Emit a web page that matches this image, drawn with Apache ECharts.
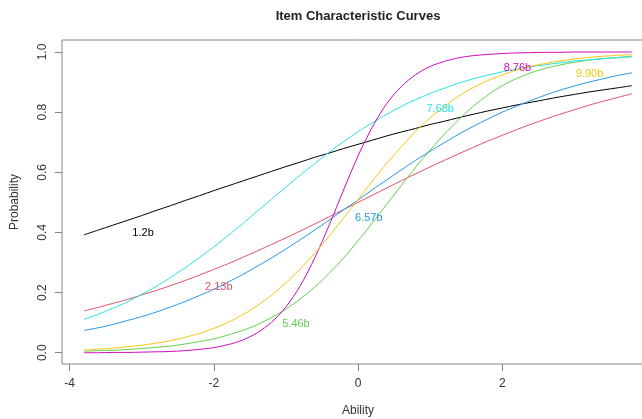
<!DOCTYPE html>
<html>
<head>
<meta charset="utf-8">
<script src="https://cdn.jsdelivr.net/npm/echarts@6/dist/echarts.min.js"></script>
<style>
  html, body { margin: 0; padding: 0; background: #fff; }
  #chart { width: 642px; height: 419px; }
</style>
</head>
<body>
<div id="chart"></div>
<script>
// ability grid the curves were read at
const theta = [-3.8, -3.6, -3.4, -3.2, -3.0, -2.8, -2.6, -2.4, -2.2, -2.0,
  -1.8, -1.6, -1.4, -1.2, -1.0, -0.8, -0.6, -0.4, -0.2, 0.0,
  0.2, 0.4, 0.6, 0.8, 1.0, 1.2, 1.4, 1.6, 1.8, 2.0,
  2.2, 2.4, 2.6, 2.8, 3.0, 3.2, 3.4, 3.6, 3.8];

const item12b = [0.392, 0.408, 0.424, 0.440, 0.456, 0.473, 0.489, 0.506, 0.522, 0.539,
  0.555, 0.571, 0.587, 0.603, 0.619, 0.634, 0.650, 0.664, 0.679, 0.693,
  0.707, 0.721, 0.734, 0.746, 0.759, 0.770, 0.782, 0.793, 0.804, 0.814,
  0.824, 0.833, 0.842, 0.851, 0.859, 0.867, 0.874, 0.881, 0.888];
const item213b = [0.139, 0.151, 0.164, 0.177, 0.192, 0.207, 0.223, 0.240, 0.258, 0.277,
  0.296, 0.317, 0.338, 0.360, 0.382, 0.405, 0.428, 0.452, 0.476, 0.500,
  0.524, 0.548, 0.572, 0.595, 0.618, 0.640, 0.662, 0.683, 0.704, 0.723,
  0.742, 0.760, 0.777, 0.793, 0.808, 0.823, 0.836, 0.849, 0.861];
const item546b = [0.005, 0.007, 0.008, 0.011, 0.014, 0.018, 0.022, 0.029, 0.037, 0.046,
  0.059, 0.074, 0.093, 0.117, 0.145, 0.179, 0.218, 0.264, 0.315, 0.372,
  0.432, 0.494, 0.556, 0.617, 0.674, 0.727, 0.776, 0.820, 0.857, 0.888,
  0.912, 0.931, 0.946, 0.957, 0.966, 0.973, 0.978, 0.982, 0.986];
const item657b = [0.074, 0.083, 0.094, 0.107, 0.120, 0.135, 0.152, 0.170, 0.190, 0.211,
  0.235, 0.260, 0.287, 0.315, 0.345, 0.376, 0.408, 0.441, 0.475, 0.508,
  0.542, 0.575, 0.608, 0.640, 0.670, 0.699, 0.727, 0.753, 0.777, 0.800,
  0.820, 0.839, 0.857, 0.873, 0.887, 0.900, 0.911, 0.922, 0.931];
const item768b = [0.111, 0.128, 0.148, 0.169, 0.194, 0.220, 0.250, 0.282, 0.316, 0.352,
  0.390, 0.429, 0.470, 0.510, 0.551, 0.591, 0.629, 0.667, 0.702, 0.735,
  0.765, 0.793, 0.819, 0.842, 0.862, 0.880, 0.897, 0.911, 0.923, 0.934,
  0.943, 0.951, 0.958, 0.964, 0.970, 0.974, 0.978, 0.981, 0.984];
const item876b = [0.000, 0.000, 0.001, 0.001, 0.002, 0.003, 0.004, 0.007, 0.011, 0.017,
  0.027, 0.042, 0.066, 0.101, 0.152, 0.223, 0.315, 0.424, 0.541, 0.654,
  0.751, 0.829, 0.885, 0.925, 0.952, 0.969, 0.981, 0.988, 0.992, 0.995,
  0.997, 0.998, 0.999, 0.999, 1.000, 1.000, 1.000, 1.000, 1.000];
const item990b = [0.009, 0.012, 0.015, 0.020, 0.025, 0.032, 0.040, 0.051, 0.064, 0.081,
  0.101, 0.126, 0.156, 0.191, 0.232, 0.279, 0.331, 0.388, 0.448, 0.509,
  0.571, 0.630, 0.685, 0.736, 0.781, 0.820, 0.854, 0.882, 0.905, 0.924,
  0.940, 0.953, 0.962, 0.970, 0.977, 0.982, 0.986, 0.989, 0.991];

const itemNames = ['1.2b', '2.13b', '5.46b', '6.57b', '7.68b', '8.76b', '9.90b'];
const itemValues = [item12b, item213b, item546b, item657b, item768b, item876b, item990b];
// where each item's name is written, in ability / probability units
const labelTheta = [-2.98, -1.93, -0.86, 0.15, 1.14, 2.21, 3.21];
const labelProb = [0.399, 0.219, 0.094, 0.449, 0.81, 0.948, 0.926];

const xTicks = [-4, -2, 0, 2, 4];
const yTicks = [0, 0.2, 0.4, 0.6, 0.8, 1.0];

// R default palette
const colors = ['#000000', '#DF536B', '#61D04F', '#2297E6', '#28E2E5', '#CD0BBC', '#F5C710'];
const font = "'Liberation Sans', Arial, sans-serif";

const chart = echarts.init(document.getElementById('chart'));

const series = itemNames.map((name, i) => ({
    name: name,
    type: 'line',
    data: theta.map((t, j) => [t, itemValues[i][j]]),
    smooth: 0.3,
    symbol: 'none',
    lineStyle: { color: colors[i], width: 1 },
    itemStyle: { color: colors[i] },
    z: 2,
    markPoint: {
        symbol: 'circle',
        symbolSize: 1,
        itemStyle: { color: 'rgba(0,0,0,0)' },
        label: {
            show: true,
            position: 'inside',
            formatter: name,
            color: colors[i],
            fontSize: 11,
            fontFamily: font,
        },
        data: [{ coord: [labelTheta[i], labelProb[i]] }],
    },
}));

chart.setOption({
    animation: false,
    backgroundColor: '#fff',
    title: {
        text: 'Item Characteristic Curves',
        left: 353,
        textAlign: 'center',
        top: 5,
        textStyle: { fontSize: 13, fontWeight: 'bold', color: '#222', fontFamily: font },
    },
    grid: {
        left: 62,
        top: 40,
        width: 592,
        height: 324,
        show: true,
        borderColor: '#888',
        borderWidth: 1,
        outerBoundsMode: 'none',
    },
    xAxis: {
        type: 'value',
        min: -4.104,
        max: 4.104,
        name: 'Ability',
        nameLocation: 'middle',
        nameGap: 41,
        nameTextStyle: { fontSize: 12, color: '#333', fontFamily: font },
        axisLine: { show: false, onZero: false },
        axisTick: { show: true, length: 7, customValues: xTicks, lineStyle: { color: '#888' } },
        axisLabel: { customValues: xTicks, margin: 14, fontSize: 12, color: '#333', fontFamily: font },
        splitLine: { show: false },
    },
    yAxis: {
        type: 'value',
        min: -0.0375,
        max: 1.04,
        name: 'Probability',
        nameLocation: 'middle',
        nameGap: 41,
        nameTextStyle: { fontSize: 12, color: '#333', fontFamily: font },
        axisLine: { show: false, onZero: false },
        axisTick: { show: true, length: 7, customValues: yTicks, lineStyle: { color: '#888' } },
        axisLabel: {
            customValues: yTicks,
            rotate: 90,
            margin: 13,
            fontSize: 12,
            color: '#333',
            fontFamily: font,
            formatter: (v) => v.toFixed(1),
        },
        splitLine: { show: false },
    },
    series: series,
});
</script>
</body>
</html>
